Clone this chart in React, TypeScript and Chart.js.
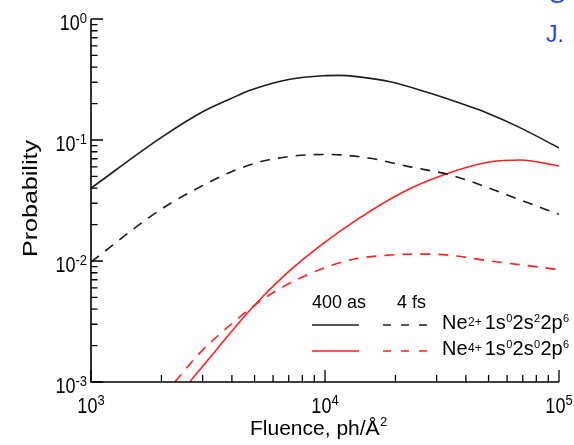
import React, { useEffect, useRef } from "react";
import { Chart, registerables } from "chart.js";
Chart.register(...registerables);

// ---- data ----
const fluenceNe2As = [1000, 2000, 3000, 3960, 4820, 7080, 9840, 11500, 13700, 19000, 28200, 41800, 49300, 68400, 100000];
const probNe2As = [0.040, 0.105, 0.171, 0.220, 0.259, 0.318, 0.340, 0.342, 0.334, 0.303, 0.243, 0.188, 0.167, 0.126, 0.086];

const fluenceNe2Fs = [1000, 1710, 2190, 2860, 3960, 5700, 10300, 15600, 23100, 34300, 50800, 68400, 100000];
const probNe2Fs = [0.0098, 0.0218, 0.030, 0.040, 0.0544, 0.0684, 0.076, 0.0706, 0.060, 0.0514, 0.0398, 0.0319, 0.0243];

const fluenceNe4As = [2640, 3430, 4780, 6850, 9840, 13700, 21600, 32000, 51000, 68400, 100000];
const probNe4As = [0.001, 0.00184, 0.00394, 0.0079, 0.014, 0.022, 0.0372, 0.0514, 0.066, 0.0684, 0.061];

const fluenceNe4Fs = [2280, 2920, 4050, 5630, 8360, 12800, 19000, 28000, 55000, 100000];
const probNe4Fs = [0.001, 0.00174, 0.0031, 0.00507, 0.00766, 0.0102, 0.0112, 0.0114, 0.0098, 0.0085];

const xDecades = [3, 4, 5];
const yDecades = [-3, -2, -1, 0];

const legendHeaders = ["400 as", "4 fs"];
const legendLabels = [
  { ion: "Ne", charge: "2+", conf: [["1s", "0"], ["2s", "2"], ["2p", "6"]] },
  { ion: "Ne", charge: "4+", conf: [["1s", "0"], ["2s", "0"], ["2p", "6"]] },
];

const xTitle = "Fluence, ph/Å";
const yTitle = "Probability";

const BLACK = "#1c1c1c";
const RED = "#ff1f1f";
const FONT = '"Liberation Sans", Arial, Helvetica, sans-serif';

function pts(xs: number[], ys: number[]) {
  return xs.map((x, i) => ({ x, y: ys[i] }));
}

function stretchText(ctx: CanvasRenderingContext2D, text: string, x: number, y: number, size: number, vs = 1) {
  ctx.save();
  ctx.font = `${size}px ${FONT}`;
  ctx.translate(x, y);
  ctx.scale(1, vs);
  ctx.fillText(text, 0, 0);
  ctx.restore();
}

function measure(ctx: CanvasRenderingContext2D, text: string, size: number) {
  ctx.font = `${size}px ${FONT}`;
  return ctx.measureText(text).width;
}

const decorPlugin = {
  id: "decor",
  afterDraw(chart: any) {
    const ctx: CanvasRenderingContext2D = chart.ctx;
    const xs = chart.scales.x;
    const ys = chart.scales.y;
    const { left, right, top, bottom } = chart.chartArea;
    ctx.save();
    ctx.strokeStyle = "#000";
    ctx.fillStyle = "#000";
    ctx.lineWidth = 1.6;
    ctx.setLineDash([]);
    // axes
    ctx.beginPath();
    ctx.moveTo(left, top);
    ctx.lineTo(left, bottom);
    ctx.lineTo(right, bottom);
    ctx.stroke();

    // ticks
    ctx.lineWidth = 1.3;
    ctx.beginPath();
    for (let i = 0; i < xDecades.length; i++) {
      const d = xDecades[i];
      const px = xs.getPixelForValue(Math.pow(10, d));
      ctx.moveTo(px, bottom);
      ctx.lineTo(px, bottom - 12);
      if (i < xDecades.length - 1) {
        for (let m = 2; m <= 9; m++) {
          const p = xs.getPixelForValue(m * Math.pow(10, d));
          ctx.moveTo(p, bottom);
          ctx.lineTo(p, bottom - 7);
        }
      }
    }
    for (let i = 0; i < yDecades.length; i++) {
      const d = yDecades[i];
      const py = ys.getPixelForValue(Math.pow(10, d));
      ctx.moveTo(left, py);
      ctx.lineTo(left + 12, py);
      if (i < yDecades.length - 1) {
        for (let m = 2; m <= 9; m++) {
          const p = ys.getPixelForValue(m * Math.pow(10, d));
          ctx.moveTo(left, p);
          ctx.lineTo(left + 6.5, p);
        }
      }
    }
    ctx.stroke();

    // tick labels
    ctx.textBaseline = "alphabetic";
    ctx.textAlign = "left";
    const mainSize = 18;
    const supSize = 13;
    const vs = 1.18;
    for (const d of xDecades) {
      const px = xs.getPixelForValue(Math.pow(10, d));
      const sup = String(d);
      const w1 = measure(ctx, "10", mainSize);
      const w2 = measure(ctx, sup, supSize);
      const x0 = px - (w1 + w2) / 2;
      const base = bottom + 31;
      stretchText(ctx, "10", x0, base, mainSize, vs);
      stretchText(ctx, sup, x0 + w1, base - 8, supSize, vs);
    }
    for (const d of yDecades) {
      const py = ys.getPixelForValue(Math.pow(10, d));
      const sup = d === 0 ? "0" : "-" + String(-d);
      const w1 = measure(ctx, "10", mainSize);
      const w2 = measure(ctx, sup, supSize);
      const xEnd = left - 4;
      const base = py + 10.5;
      stretchText(ctx, "10", xEnd - w1 - w2, base, mainSize, vs);
      stretchText(ctx, sup, xEnd - w2, base - 7, supSize, vs);
    }

    // axis titles
    stretchText(ctx, xTitle, 250, 435, 21, 1);
    const wt = measure(ctx, xTitle, 21);
    stretchText(ctx, "2", 250 + wt + 0.5, 426, 13, 1);

    ctx.save();
    ctx.translate(37, 198.5);
    ctx.rotate(-Math.PI / 2);
    ctx.font = `21px ${FONT}`;
    const wy = ctx.measureText(yTitle).width;
    const sx = 117 / wy;
    ctx.scale(sx, 1);
    ctx.textAlign = "center";
    ctx.fillText(yTitle, 0, 0);
    ctx.restore();

    // legend
    const ds = chart.data.datasets;
    ctx.fillStyle = "#000";
    stretchText(ctx, legendHeaders[0], 312, 308, 18, 1.05);
    stretchText(ctx, legendHeaders[1], 397, 308, 18, 1.05);
    const rows = [325, 351];
    for (let r = 0; r < 2; r++) {
      const y = rows[r];
      const solid = ds[r * 2];
      const dashed = ds[r * 2 + 1];
      ctx.lineWidth = 1.6;
      ctx.strokeStyle = solid.borderColor;
      ctx.setLineDash([]);
      ctx.beginPath();
      ctx.moveTo(312, y);
      ctx.lineTo(359, y);
      ctx.stroke();
      ctx.strokeStyle = dashed.borderColor;
      ctx.setLineDash([8, 10]);
      ctx.beginPath();
      ctx.moveTo(383, y);
      ctx.lineTo(429, y);
      ctx.stroke();
      ctx.setLineDash([]);

      const lab = legendLabels[r];
      const base = y + 3.5;
      let x = 442;
      ctx.fillStyle = "#000";
      stretchText(ctx, lab.ion, x, base, 20, 1.05);
      x += measure(ctx, lab.ion, 20) + 0.5;
      stretchText(ctx, lab.charge, x, base - 3, 12, 1.05);
      x += measure(ctx, lab.charge, 12) + 3;
      for (const [orb, occ] of lab.conf) {
        stretchText(ctx, orb, x, base, 20, 1.05);
        x += measure(ctx, orb, 20) + 0.3;
        stretchText(ctx, occ, x, base - 7, 11, 1.05);
        x += measure(ctx, occ, 11) + 0.3;
      }
    }

    // cropped blue text at the top right
    ctx.fillStyle = "#1f3cf8";
    stretchText(ctx, "G", 548, 3, 23, 1.05);
    stretchText(ctx, "J.", 546, 42, 23, 1.05);
    ctx.restore();
  },
};

export default function App() {
  const ref = useRef<HTMLCanvasElement | null>(null);
  useEffect(() => {
    if (!ref.current) return;
    const common = {
      pointRadius: 0,
      borderWidth: 1.6,
      fill: false,
      cubicInterpolationMode: "monotone" as const,
    };
    const chart = new Chart(ref.current, {
      type: "line",
      data: {
        datasets: [
          { ...common, label: "Ne2+ 400 as", data: pts(fluenceNe2As, probNe2As), borderColor: BLACK },
          { ...common, label: "Ne2+ 4 fs", data: pts(fluenceNe2Fs, probNe2Fs), borderColor: BLACK, borderDash: [10, 8] },
          { ...common, label: "Ne4+ 400 as", data: pts(fluenceNe4As, probNe4As), borderColor: RED },
          { ...common, label: "Ne4+ 4 fs", data: pts(fluenceNe4Fs, probNe4Fs), borderColor: RED, borderDash: [10, 8] },
        ],
      },
      options: {
        animation: false,
        responsive: false,
        parsing: true,
        layout: { padding: { left: 91, right: 15, top: 19, bottom: 63 } },
        scales: {
          x: { type: "logarithmic", min: 1000, max: 100000, display: false },
          y: { type: "logarithmic", min: 0.001, max: 1, display: false },
        },
        plugins: {
          legend: { display: false },
          tooltip: { enabled: false },
        },
      },
      plugins: [decorPlugin],
    } as any);
    return () => chart.destroy();
  }, []);
  return (
    <div style={{ position: "fixed", left: 0, top: 0, width: 574, height: 445, background: "#fff" }}>
      <canvas ref={ref} width={574} height={445} style={{ display: "block" }} />
    </div>
  );
}
